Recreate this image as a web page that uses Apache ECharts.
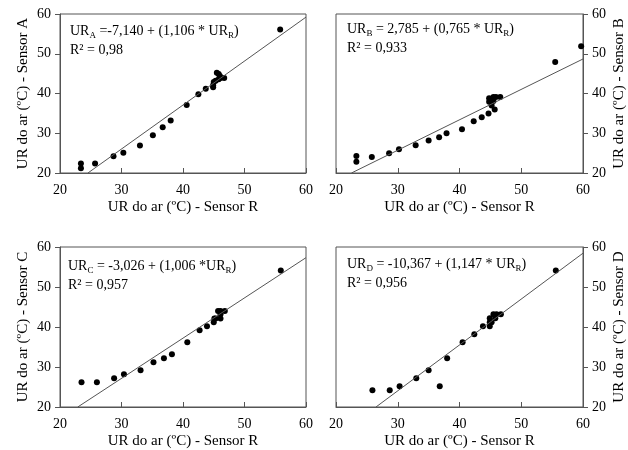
<!DOCTYPE html>
<html>
<head>
<meta charset="utf-8">
<script src="https://cdn.jsdelivr.net/npm/echarts@6/dist/echarts.min.js"></script>
<style>
  html, body { margin: 0; padding: 0; background: #fff; }
  #chart { width: 628px; height: 450px; }
</style>
</head>
<body>
<div id="chart"></div>
<script>
// Sensor R (x) and each sensor (y)
const sensorR_A = [23.4, 23.4, 25.7, 28.7, 30.3, 33.0, 35.1, 36.7, 38.0, 40.6, 42.5, 43.7, 44.9, 44.9, 45.0, 45.3, 45.5, 45.8, 46.0, 45.8, 46.1, 46.7, 55.8];
const sensorA   = [22.4, 21.2, 22.4, 24.2, 25.1, 26.9, 29.5, 31.5, 33.2, 37.1, 39.8, 41.2, 41.6, 42.1, 42.9, 43.2, 45.2, 44.9, 44.4, 43.6, 43.9, 43.9, 56.1];

const sensorR_B = [23.3, 23.3, 25.8, 28.6, 30.2, 32.9, 35.0, 36.7, 37.9, 40.4, 42.3, 43.6, 44.7, 44.8, 44.8, 45.2, 45.5, 45.5, 45.7, 45.9, 46.6, 55.5, 59.7];
const sensorB   = [24.3, 22.8, 24.0, 25.0, 26.0, 27.0, 28.2, 29.0, 30.0, 31.0, 33.0, 34.0, 35.0, 38.8, 37.9, 37.0, 39.1, 38.1, 36.0, 39.1, 39.1, 47.9, 51.9];

const sensorR_C = [23.5, 26.0, 28.8, 30.4, 33.1, 35.2, 36.9, 38.2, 40.7, 42.7, 43.9, 45.0, 45.1, 45.3, 45.7, 46.1, 46.1, 46.1, 46.8, 55.9];
const sensorC   = [26.2, 26.2, 27.2, 28.2, 29.2, 31.2, 32.2, 33.2, 36.2, 39.2, 40.2, 41.2, 42.1, 42.1, 44.0, 44.0, 43.2, 42.1, 44.0, 54.1];

const sensorR_D = [25.9, 28.7, 30.3, 33.0, 35.0, 36.8, 38.0, 40.5, 42.4, 43.8, 44.9, 44.9, 44.9, 45.2, 45.5, 45.8, 46.0, 46.7, 55.6];
const sensorD   = [24.2, 24.2, 25.2, 27.2, 29.2, 25.2, 32.2, 36.2, 38.2, 40.2, 40.2, 41.2, 42.2, 41.2, 43.2, 42.2, 43.2, 43.2, 54.1];

// regression coefficients (intercept, slope) and R²
const panelNames = ['A', 'B', 'C', 'D'];
const intercepts = [-7.140, 2.785, -3.026, -10.367];
const slopes     = [1.106, 0.765, 1.006, 1.147];
const equations  = [
  '{n|UR}{s|A}{n| =-7,140 + (1,106 * UR}{s|R}{n|)}',
  '{n|UR}{s|B}{n| = 2,785 + (0,765 * UR}{s|R}{n|)}',
  '{n|UR}{s|C}{n| = -3,026 + (1,006 *UR}{s|R}{n|)}',
  '{n|UR}{s|D}{n| = -10,367 + (1,147 * UR}{s|R}{n|)}'
];
const r2Labels = ['R² = 0,98', 'R² = 0,933', 'R² = 0,957', 'R² = 0,956'];

const axisMin = 20, axisMax = 60, axisStep = 10;
const xName = 'UR do ar (ºC) - Sensor R';

const xs = [sensorR_A, sensorR_B, sensorR_C, sensorR_D];
const ys = [sensorA, sensorB, sensorC, sensorD];

const font = 'Liberation Serif';
const axisColor = '#555';

const grids = [
  { left: 60, top: 14, width: 246, height: 159 },
  { left: 336, top: 14, width: 247, height: 159 },
  { left: 60, top: 247, width: 246, height: 160 },
  { left: 336, top: 247, width: 247, height: 160 }
];
const textPos = [[70, 24], [347, 22], [68, 259], [347, 257]];

// end points of the fitted line clipped to the axis box
function fitLine(a, b) {
  let x0 = axisMin, x1 = axisMax;
  if (a + b * x0 < axisMin) x0 = (axisMin - a) / b;
  if (a + b * x1 > axisMax) x1 = (axisMax - a) / b;
  return [[x0, a + b * x0], [x1, a + b * x1]];
}

const xAxes = [], yAxes = [], series = [], texts = [];
grids.forEach((g, i) => {
  g.show = true;
  g.borderColor = axisColor;
  g.borderWidth = 1;
  const right = i % 2 === 1;
  xAxes.push({
    gridIndex: i, type: 'value', min: axisMin, max: axisMax, interval: axisStep,
    axisLine: { show: true, lineStyle: { color: axisColor } },
    axisTick: { show: true, inside: true, length: 5, lineStyle: { color: axisColor } },
    axisLabel: { fontFamily: font, fontSize: 14, color: '#000', margin: 10 },
    splitLine: { show: false },
    name: xName, nameLocation: 'middle', nameGap: 27,
    nameTextStyle: { fontFamily: font, fontSize: 15, color: '#000' }
  });
  yAxes.push({
    gridIndex: i, type: 'value', min: axisMin, max: axisMax, interval: axisStep,
    position: right ? 'right' : 'left',
    axisLine: { show: true, lineStyle: { color: axisColor } },
    axisTick: { show: true, length: 5, lineStyle: { color: axisColor } },
    axisLabel: { fontFamily: font, fontSize: 14, color: '#000', margin: 9 },
    splitLine: { show: false },
    name: 'UR do ar (ºC) - Sensor ' + panelNames[i], nameLocation: 'middle',
    nameRotate: 90, nameGap: 29,
    nameTextStyle: { fontFamily: font, fontSize: 15, color: '#000' }
  });
  series.push({
    type: 'scatter', xAxisIndex: i, yAxisIndex: i, symbolSize: 6,
    itemStyle: { color: '#000', opacity: 1 },
    data: xs[i].map((x, k) => [x, ys[i][k]])
  });
  series.push({
    type: 'line', xAxisIndex: i, yAxisIndex: i, symbol: 'none',
    lineStyle: { color: axisColor, width: 1 },
    data: fitLine(intercepts[i], slopes[i])
  });
  texts.push({
    type: 'text', left: textPos[i][0], top: textPos[i][1],
    style: {
      text: equations[i] + '\n{n|' + r2Labels[i] + '}',
      rich: {
        n: { fontFamily: font, fontSize: 14, color: '#000', lineHeight: 19 },
        s: { fontFamily: font, fontSize: 9, color: '#000', lineHeight: 19, verticalAlign: 'bottom' }
      }
    }
  });
});

const chart = echarts.init(document.getElementById('chart'));
chart.setOption({
  backgroundColor: '#fff',
  animation: false,
  grid: grids,
  xAxis: xAxes,
  yAxis: yAxes,
  series: series,
  graphic: texts
});
</script>
</body>
</html>
